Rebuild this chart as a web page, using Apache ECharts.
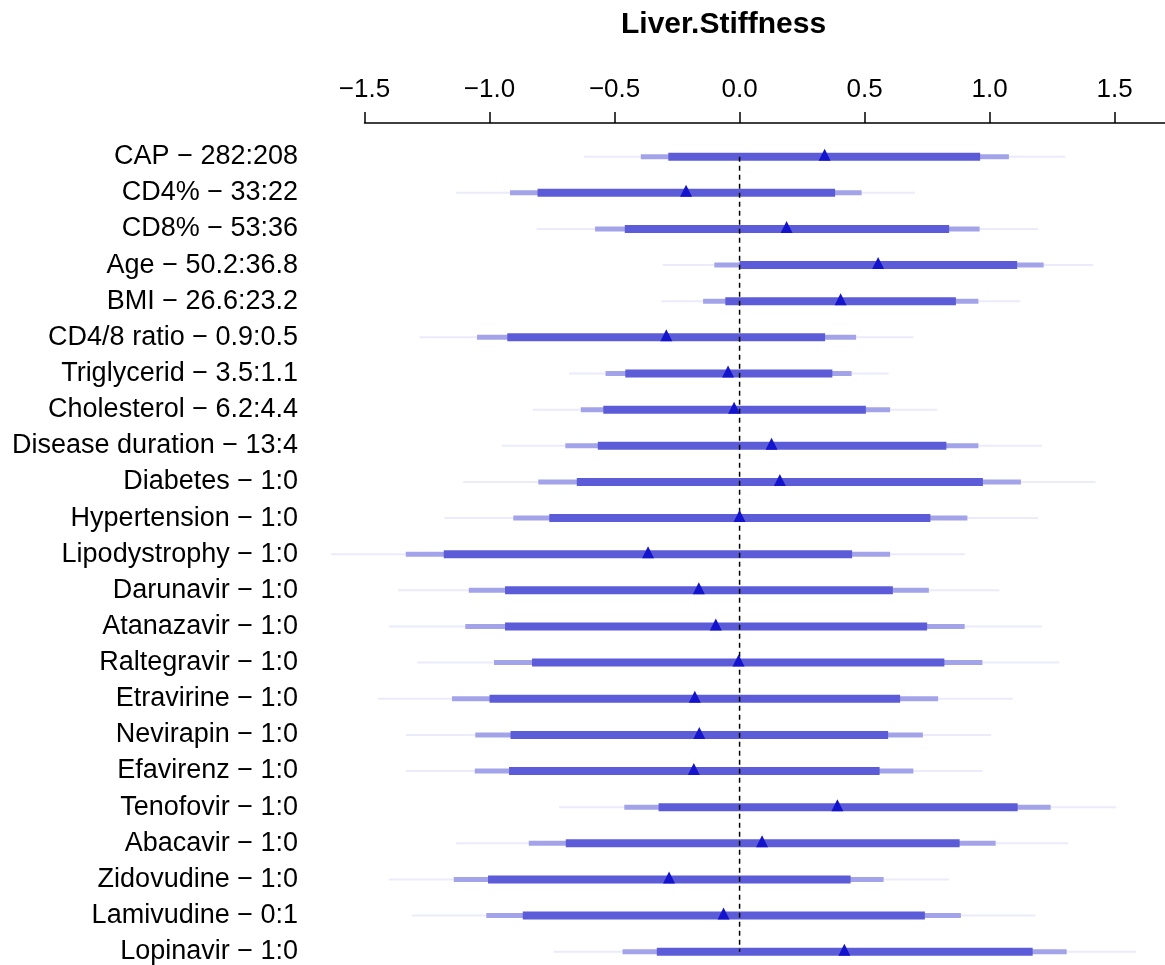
<!DOCTYPE html>
<html>
<head>
<meta charset="utf-8">
<script src="https://cdn.jsdelivr.net/npm/echarts@6/dist/echarts.min.js"></script>
<style>
html,body{margin:0;padding:0;background:#fff;}
#chart{width:1165px;height:965px;}
</style>
</head>
<body>
<div id="chart"></div>
<script>
const categories = [
  "CAP \u2212 282:208", "CD4% \u2212 33:22", "CD8% \u2212 53:36", "Age \u2212 50.2:36.8",
  "BMI \u2212 26.6:23.2", "CD4/8 ratio \u2212 0.9:0.5", "Triglycerid \u2212 3.5:1.1",
  "Cholesterol \u2212 6.2:4.4", "Disease duration \u2212 13:4", "Diabetes \u2212 1:0",
  "Hypertension \u2212 1:0", "Lipodystrophy \u2212 1:0", "Darunavir \u2212 1:0",
  "Atanazavir \u2212 1:0", "Raltegravir \u2212 1:0", "Etravirine \u2212 1:0",
  "Nevirapin \u2212 1:0", "Efavirenz \u2212 1:0", "Tenofovir \u2212 1:0",
  "Abacavir \u2212 1:0", "Zidovudine \u2212 1:0", "Lamivudine \u2212 0:1", "Lopinavir \u2212 1:0"
];
// outer (thin) interval
const lo99 = [-0.622,-1.134,-0.812,-0.307,-0.313,-1.280,-0.682,-0.827,-0.951,-1.105,-1.180,-1.633,-1.366,-1.403,-1.289,-1.447,-1.335,-1.335,-0.722,-1.134,-1.403,-1.311,-0.744];
const hi99 = [1.302,0.702,1.194,1.414,1.123,0.695,0.596,0.790,1.209,1.423,1.194,0.900,1.039,1.209,1.278,1.092,1.006,0.971,1.507,1.315,0.838,1.183,1.584];
// middle interval
const lo95 = [-0.395,-0.918,-0.578,-0.101,-0.146,-1.050,-0.536,-0.635,-0.697,-0.805,-0.905,-1.335,-1.083,-1.097,-0.982,-1.150,-1.057,-1.059,-0.461,-0.843,-1.143,-1.013,-0.468];
const hi95 = [1.077,0.488,0.960,1.216,0.955,0.466,0.448,0.602,0.955,1.125,0.911,0.602,0.757,0.900,0.971,0.794,0.733,0.695,1.244,1.024,0.576,0.885,1.308];
// inner (thick) interval
const lo90 = [-0.285,-0.808,-0.459,0.000,-0.057,-0.929,-0.457,-0.545,-0.567,-0.651,-0.761,-1.183,-0.938,-0.938,-0.830,-1.000,-0.916,-0.922,-0.324,-0.695,-1.006,-0.867,-0.331];
const hi90 = [0.962,0.382,0.838,1.110,0.865,0.342,0.371,0.505,0.827,0.973,0.763,0.450,0.613,0.750,0.819,0.642,0.594,0.560,1.112,0.880,0.444,0.741,1.172];
// point estimates
const est = [0.340,-0.214,0.188,0.554,0.404,-0.293,-0.046,-0.022,0.128,0.161,0.000,-0.366,-0.163,-0.095,-0.004,-0.179,-0.161,-0.183,0.391,0.090,-0.282,-0.064,0.419];
const refValue = 0;
const titleText = "Liver.Stiffness";

const FONT = "'Liberation Sans', Arial, sans-serif";

function intervalSeries(lo, hi, color, width) {
  return {
    type: 'custom',
    data: categories.map((c, i) => [lo[i], hi[i], c]),
    encode: { x: [0, 1], y: 2 },
    renderItem: function (params, api) {
      const a = api.coord([api.value(0), api.value(2)]);
      const b = api.coord([api.value(1), api.value(2)]);
      return {
        type: 'line',
        shape: { x1: a[0], y1: a[1], x2: b[0], y2: b[1] },
        style: { stroke: color, lineWidth: width, lineCap: 'butt' }
      };
    },
    silent: true,
    z: 2
  };
}

const chart = echarts.init(document.getElementById('chart'));
chart.setOption({
  animation: false,
  backgroundColor: '#fff',
  graphic: [{
    type: 'text', left: 731 - 110, top: 10,
    style: { text: titleText, font: "bold 30px " + FONT, fill: '#000', width: 220, align: 'center' }
  }],
  grid: { left: 364.5, right: -74.7, top: 138.6, height: 831.2, containLabel: false, outerBoundsMode: 'none' },
  xAxis: {
    type: 'value', position: 'top', offset: 15.6,
    min: -1.5, max: 2.0, interval: 0.5,
    splitLine: { show: false },
    axisLine: { show: true, onZero: false, lineStyle: { color: '#000', width: 1.5 } },
    axisTick: { show: true, length: 11, lineStyle: { color: '#000', width: 1.5 } },
    axisLabel: {
      margin: 20, color: '#000', fontSize: 26, fontFamily: FONT,
      formatter: v => (v < 0 ? '\u2212' : '') + Math.abs(v).toFixed(1)
    }
  },
  yAxis: {
    type: 'category', inverse: true, data: categories, boundaryGap: true,
    axisLine: { show: false }, axisTick: { show: false }, splitLine: { show: false },
    axisLabel: { margin: 66.5, color: '#000', fontSize: 27, fontFamily: FONT, interval: 0 }
  },
  series: [
    intervalSeries(lo99, hi99, '#ebebfc', 2),
    intervalSeries(lo95, hi95, '#a3a3ea', 5),
    intervalSeries(lo90, hi90, '#5c5cd8', 8),
    {
      type: 'line',
      data: [[refValue, categories[0]], [refValue, categories[categories.length - 1]]],
      symbol: 'none', silent: true,
      lineStyle: { color: '#000', width: 1.5, type: [5, 4] },
      z: 3
    },
    {
      type: 'scatter',
      data: categories.map((c, i) => [est[i], c]),
      symbol: 'triangle', symbolSize: [12, 12], symbolOffset: [0, -2],
      itemStyle: { color: '#1414cc', opacity: 1 },
      silent: true, z: 4
    }
  ]
});
</script>
</body>
</html>
